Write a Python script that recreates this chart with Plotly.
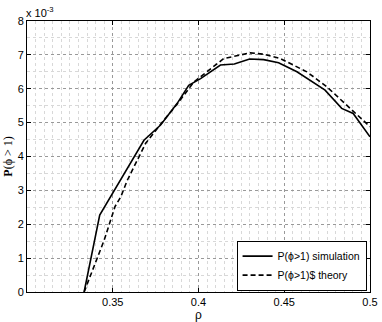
import plotly.graph_objects as go

# valeurs (ordonnées en unités de 1e-3)
rho_sim = [0.3333, 0.3424, 0.3682, 0.3779, 0.3876, 0.3943, 0.4012, 0.4128, 0.4209,
           0.4298, 0.438, 0.4467, 0.4574, 0.4738, 0.4835, 0.4902, 0.5]
p_sim = [0, 2.27, 4.48, 4.93, 5.57, 6.1, 6.3, 6.70, 6.73,
         6.88, 6.86, 6.77, 6.5, 5.96, 5.42, 5.27, 4.58]

rho_th = [0.3333, 0.345, 0.3513, 0.3547, 0.3585, 0.3692, 0.3779, 0.3876, 0.3973,
          0.4147, 0.4302, 0.438, 0.4477, 0.4632, 0.4748, 0.4864, 0.5]
p_th = [0, 1.53, 2.52, 2.81, 3.3, 4.39, 4.95, 5.55, 6.2,
        6.89, 7.06, 7.02, 6.89, 6.5, 6.06, 5.52, 4.88]

x_ticks = [0.35, 0.4, 0.45, 0.5]
x_labels = ['0.35', '0.4', '0.45', '0.5']
y_ticks = [0, 1, 2, 3, 4, 5, 6, 7, 8]

fig = go.Figure()
fig.add_trace(go.Scatter(x=rho_sim, y=p_sim, mode='lines', name='P(\u03d5>1) simulation',
                         line=dict(color='black', width=1.6)))
fig.add_trace(go.Scatter(x=rho_th, y=p_th, mode='lines', name='P(\u03d5>1)$ theory',
                         line=dict(color='black', width=1.6, dash='5px,3px')))

axe = dict(showline=True, linecolor='black', linewidth=1, mirror='ticks',
           ticks='inside', ticklen=4, tickcolor='black', zeroline=False, automargin=False,
           showgrid=True, gridcolor='#999999', griddash='dot', gridwidth=1,
           tickfont=dict(family='Liberation Sans', size=11, color='black'))

fig.update_xaxes(axe, range=[0.3, 0.5], tickvals=x_ticks, ticktext=x_labels,
                 minor=dict(dtick=0.005, showgrid=True, gridcolor='#d8d8d8', griddash='dot'),
                 title=dict(text='\u03c1', font=dict(family='Liberation Sans', size=12, color='black'),
                            standoff=0))
fig.update_yaxes(axe, range=[0, 8], tickvals=y_ticks,
                 minor=dict(dtick=0.5, showgrid=True, gridcolor='#d8d8d8', griddash='dot'),
                 title=dict(text='<b>P</b>(\u03d5 > 1)',
                            font=dict(family='Liberation Serif', size=12, color='black'),
                            standoff=2))

fig.add_annotation(x=0, y=1, xref='paper', yref='paper', xanchor='left', yanchor='bottom',
                   text='x 10<sup>-3</sup>', showarrow=False, xshift=-3,
                   font=dict(family='Liberation Sans', size=11, color='black'))

fig.update_layout(
    width=382, height=322,
    margin=dict(l=27, r=12, t=21, b=30),
    plot_bgcolor='white', paper_bgcolor='white',
    legend=dict(x=0.99, y=0.005, xanchor='right', yanchor='bottom',
                bordercolor='black', borderwidth=1, bgcolor='white',
                font=dict(family='Liberation Sans', size=10.5, color='black'),
                tracegroupgap=0, itemwidth=30),
)

# pas de marge autour de la figure dans la page
fig.write_html("out.html", config={'displayModeBar': False},
               post_script="document.body.style.margin='0';")
